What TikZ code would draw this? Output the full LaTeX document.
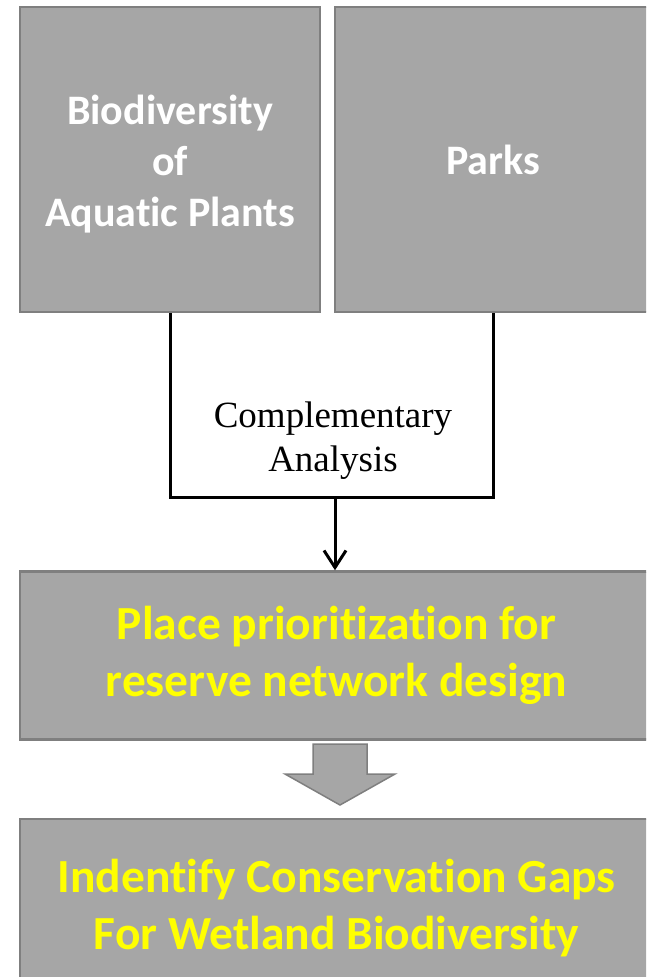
\documentclass[tikz,border=0pt]{standalone}
\usepackage{fontspec}
\setmainfont{Carlito}[Ligatures=NoCommon]
\newfontfamily\labelfont{Liberation Serif}
\usetikzlibrary{positioning, arrows.meta}

\definecolor{boxgray}{HTML}{A6A6A6}
\definecolor{edgegray}{HTML}{7F7F7F}
\definecolor{hiyellow}{HTML}{FFFF00}

\begin{document}
\begin{tikzpicture}[x=1pt, y=1pt, node distance=12.5pt,
    main/.style = {draw=edgegray, fill=boxgray, line width=2.5pt, inner sep=0pt,
                   align=center, text=white, font=\fontsize{42}{51}\selectfont\bfseries},
    goal/.style = {main, text=hiyellow, font=\fontsize{47.5}{57}\selectfont\bfseries},
    link/.style = {draw=black, line width=3pt}]
    \path[use as bounding box, clip] (0,0) rectangle (646,-977);

    \node[main, minimum width=300, minimum height=305] (bio) at (170,-159.5) {\rule{0pt}{39pt}Biodiversity\\of\\Aquatic Plants};
    \node[main, minimum width=316, minimum height=305] (parks) [right=of bio] {Parks};

    \node[goal, minimum width=633, minimum height=168] (place) [below=257pt of bio.south west, anchor=north west]
        {Place prioritization for\\reserve network design};
    \node[goal, minimum width=633, minimum height=178] (gaps) [below=77pt of place.south west, anchor=north west]
        {Indentify Conservation Gaps\\For Wetland Biodiversity};

    \coordinate (join) at (335,-497);
    \draw[link] (bio.south) |- (join) -| (parks.south);
    \node[inner sep=0pt, align=center, font=\labelfont\fontsize{37}{44}\selectfont, xshift=-2pt] (cmp) [above=17pt of join]
        {Complementary\\Analysis};
    \draw[link, -{Straight Barb[length=17pt, width=22pt, line width=3pt]}] (join) -- (join |- place.north);

    \draw[draw=edgegray, fill=boxgray, line width=1.5pt, line join=miter]
        (313,-744) -- (367,-744) -- (367,-774) -- (395,-774) -- (340,-805)
        -- (285,-774) -- (313,-774) -- cycle;
\end{tikzpicture}
\end{document}
